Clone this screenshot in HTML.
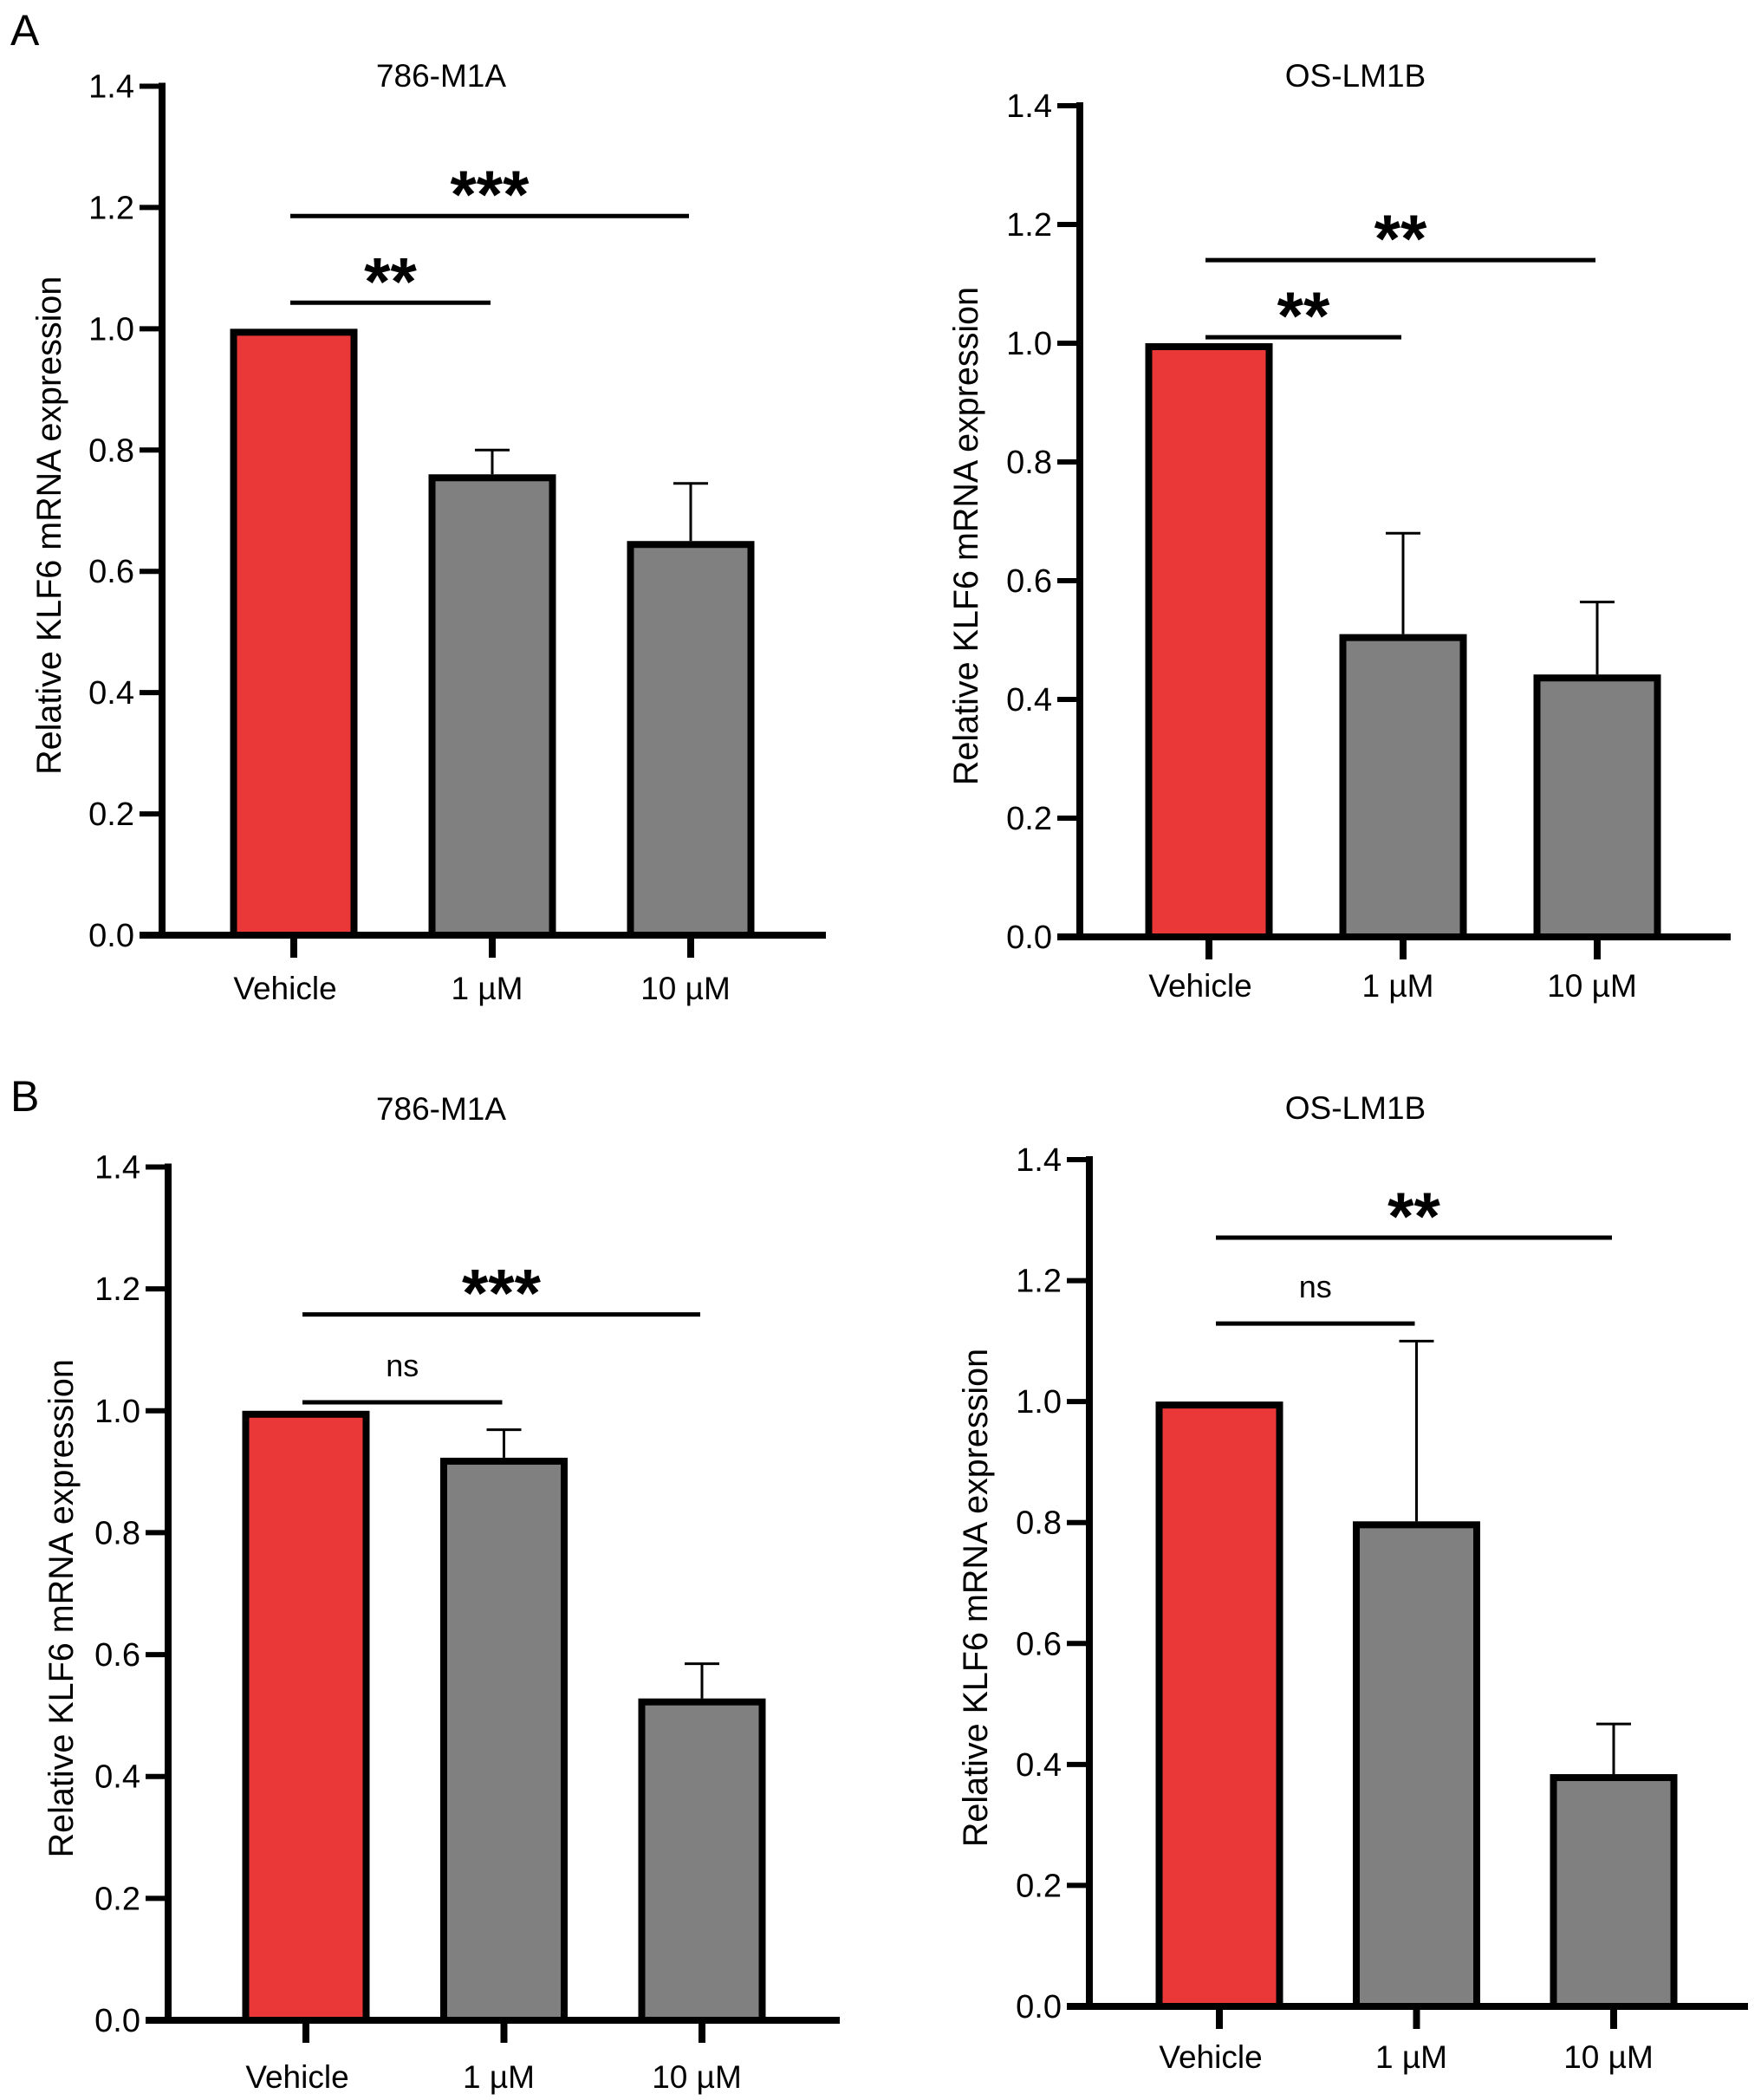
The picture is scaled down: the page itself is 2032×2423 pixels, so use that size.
<!DOCTYPE html>
<html><head><meta charset="utf-8">
<style>
html,body{margin:0;padding:0;background:#fff;}
svg{display:block;font-family:"Liberation Sans",Arial,sans-serif;}
</style></head>
<body>
<svg id="fig" width="2032" height="2423" viewBox="0 0 2032 2423" xmlns="http://www.w3.org/2000/svg">
<text x="12" y="52" font-size="50">A</text>
<text x="12" y="1282" font-size="50">B</text>
</svg>
<script>
// ---- data ----
const categories = ["Vehicle", "1 \u00b5M", "10 \u00b5M"];
const yTickValues = [0, 0.2, 0.4, 0.6, 0.8, 1.0, 1.2, 1.4];
const yTickLabels = ["0.0", "0.2", "0.4", "0.6", "0.8", "1.0", "1.2", "1.4"];
const panelTitles = ["786-M1A", "OS-LM1B", "786-M1A", "OS-LM1B"];
const meansA1 = [1.0, 0.76, 0.65];
const errA1 = [0, 0.80, 0.745];
const meansA2 = [1.0, 0.51, 0.442];
const errA2 = [0, 0.68, 0.564];
const meansB1 = [1.0, 0.923, 0.528];
const errB1 = [0, 0.969, 0.585];
const meansB2 = [1.0, 0.802, 0.384];
const errB2 = [0, 1.10, 0.467];
// significance brackets: [fromIndex, toIndex, yValue, label]
const sigA1 = [[0, 1, 1.043, "**"], [0, 2, 1.186, "***"]];
const sigA2 = [[0, 1, 1.01, "**"], [0, 2, 1.14, "**"]];
const sigB1 = [[0, 1, 1.014, "ns"], [0, 2, 1.158, "***"]];
const sigB2 = [[0, 1, 1.129, "ns"], [0, 2, 1.271, "**"]];

// ---- layout (geometry only) ----
const layouts = [
  {id:"a1", ax:187, y0:1079, yTop:99.5, xEnd:953, t0:339, dt:229, titleX:509, titleY:100, ytX:57, labY:1153},
  {id:"a2", ax:1246, y0:1081, yTop:122, xEnd:1997, t0:1395, dt:224, titleX:1564, titleY:100, ytX:1115, labY:1150},
  {id:"b1", ax:194, y0:2331, yTop:1346.5, xEnd:969, t0:353, dt:228.5, titleX:509, titleY:1292, ytX:71, labY:2409},
  {id:"b2", ax:1257, y0:2315, yTop:1338, xEnd:2017, t0:1407, dt:227.5, titleX:1564, titleY:1291, ytX:1126, labY:2386}
];
const meansAll = [meansA1, meansA2, meansB1, meansB2];
const errAll = [errA1, errA2, errB1, errB2];
const sigAll = [sigA1, sigA2, sigB1, sigB2];
const barColors = ["#ea3838", "#808080", "#808080"];

const NS = "http://www.w3.org/2000/svg";
const svg = document.getElementById("fig");
function mk(tag, attrs, parent) {
  const e = document.createElementNS(NS, tag);
  for (const k in attrs) e.setAttribute(k, attrs[k]);
  (parent || svg).appendChild(e);
  return e;
}

layouts.forEach((L, p) => {
  const g = mk("g", {});
  
  
  const yScale = v => L.y0 - (L.y0 - L.yTop) * v / 1.4;
  const xScale = i => L.t0 + i * L.dt;

  const t = mk("text", {x:L.titleX, y:L.titleY, "font-size":37, "text-anchor":"middle"}, g);
  t.textContent = panelTitles[p];
  
  

  const yt = mk("text", {x:0, y:0, "font-size":39.5, "text-anchor":"middle",
    transform:`translate(${L.ytX + 13},${yScale(0.7) + 17}) rotate(-90)`}, g);
  yt.textContent = "Relative KLF6 mRNA expression";
  
  

  meansAll[p].forEach((v, i) => {
    const cx = xScale(i);
    const r = mk("rect", {x:cx - 69.5, y:yScale(v) + 4, width:139, height:L.y0 - yScale(v) - 4,
      fill:barColors[i], stroke:"#000", "stroke-width":8}, g);
    
    
    const e = errAll[p][i];
    if (e > v) {
      const el = mk("path", {d:`M${cx},${yScale(v)} V${yScale(e)} M${cx - 20},${yScale(e)} H${cx + 20}`,
        stroke:"#000", "stroke-width":3, fill:"none"}, g);
      
      
    }
  });

  const ya = mk("line", {x1:L.ax, y1:L.yTop - 4, x2:L.ax, y2:L.y0 + 4, stroke:"#000", "stroke-width":8}, g);
  
  
  const xa = mk("line", {x1:L.ax - 26, y1:L.y0, x2:L.xEnd, y2:L.y0, stroke:"#000", "stroke-width":8}, g);
  
  

  yTickValues.forEach((v, k) => {
    const y = yScale(v);
    const tk = mk("line", {x1:L.ax - 26, y1:y, x2:L.ax, y2:y, stroke:"#000", "stroke-width":6}, g);
    
    
    const tl = mk("text", {x:L.ax - 32, y:y + 13, "font-size":38, "text-anchor":"end"}, g);
    tl.textContent = yTickLabels[k];
    
    
  });

  categories.forEach((c, i) => {
    const cx = xScale(i);
    const tk = mk("line", {x1:cx, y1:L.y0, x2:cx, y2:L.y0 + 26, stroke:"#000", "stroke-width":8}, g);
    
    
    const tl = mk("text", {x:cx - (i === 0 ? 10 : 6), y:L.labY, "font-size":37, "text-anchor":"middle"}, g);
    tl.textContent = c;
    
    
  });

  sigAll[p].forEach(s => {
    const x1 = xScale(s[0]) - 4, x2 = xScale(s[1]) - 2, y = yScale(s[2]);
    const ln = mk("line", {x1:x1, y1:y, x2:x2, y2:y, stroke:"#000", "stroke-width":5}, g);
    
    
    const mid = (x1 + x2) / 2;
    let tx;
    if (s[3] === "ns") {
      tx = mk("text", {x:mid, y:y - 30, "font-size":36, "text-anchor":"middle"}, g);
    } else {
      tx = mk("text", {x:mid, y:y + 2, "font-size":78, "font-weight":"bold", "text-anchor":"middle"}, g);
    }
    tx.textContent = s[3];
    
    
  });
});
</script>
</body></html>
